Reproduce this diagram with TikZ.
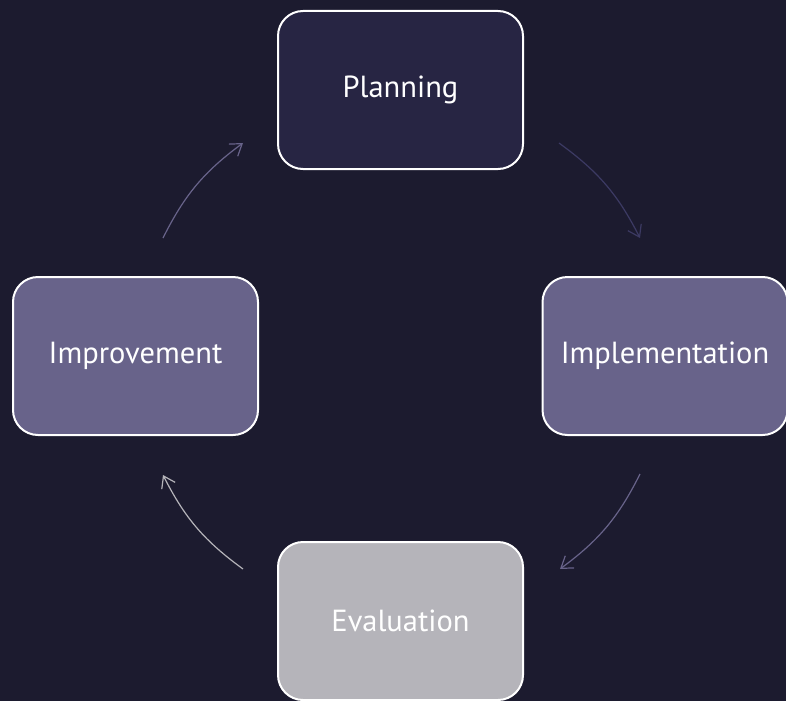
\documentclass[tikz,border=0pt]{standalone}
\usepackage{fontspec}
\setmainfont{PT Sans}
\usetikzlibrary{arrows.meta}
\definecolor{bgc}{HTML}{1C1B2F}
\definecolor{planc}{HTML}{272543}
\definecolor{midc}{HTML}{68638A}
\definecolor{evalc}{HTML}{B5B4BA}
\definecolor{dimarrow}{HTML}{3C3A63}
\tikzset{
  stagebox/.style={draw=white, line width=2pt, rounded corners=25pt, minimum width=245pt, minimum height=158pt, text=white, font=\fontsize{30.5}{34}\selectfont, inner sep=0pt},
  cyc/.style={line width=1.2pt, -{Straight Barb[length=11pt,width=15pt,line width=1.2pt]}, bend left=13.5}
}
\begin{document}
\begin{tikzpicture}[x=1pt,y=-1pt]
\useasboundingbox (0,0) rectangle (786,701);
\fill[bgc] (0,0) rectangle (786,701);
\node[stagebox, fill=planc] (plan) at (400.5,90) {Planning};
\node[stagebox, fill=midc] (impl) at (665,356) {Implementation};
\node[stagebox, fill=evalc] (eval) at (400.5,621) {Evaluation};
\node[stagebox, fill=midc] (impr) at (135.5,356) {Improvement};
\coordinate (s1) at (559,143);
\coordinate (e1) at (640,238);
\coordinate (s2) at (640,474);
\coordinate (e2) at (560,569);
\coordinate (s3) at (243,569);
\coordinate (e3) at (163,475);
\coordinate (s4) at (163,238);
\coordinate (e4) at (243,143);
\draw[cyc, draw=dimarrow] (s1) to (e1);
\draw[cyc, draw=midc] (s2) to (e2);
\draw[cyc, draw=evalc] (s3) to (e3);
\draw[cyc, draw=midc] (s4) to (e4);
\end{tikzpicture}
\end{document}
